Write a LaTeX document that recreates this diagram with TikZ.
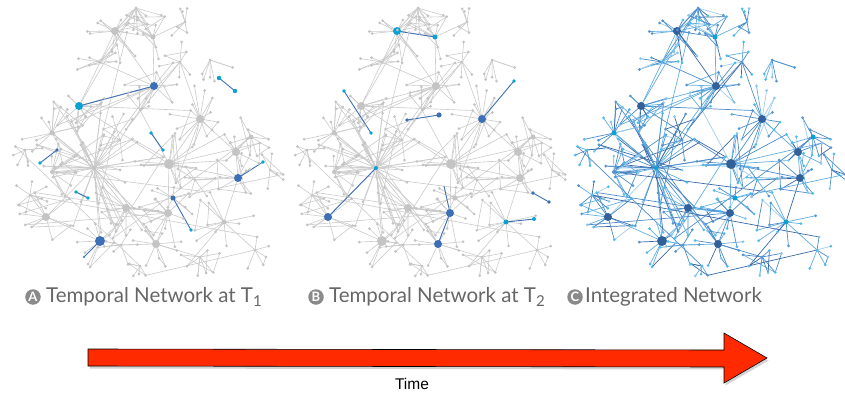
\documentclass[tikz,border=0pt]{standalone}
\usepackage{fontspec}
\setmainfont{Lato}
\newfontfamily\timefont{Liberation Sans}
\usetikzlibrary{shadows}
\definecolor{gE}{HTML}{CACACA}
\definecolor{gN}{HTML}{C4C4C4}
\definecolor{bD}{HTML}{3C6FB5}
\definecolor{bC}{HTML}{0AA2D2}
\definecolor{cdark}{HTML}{34609A}
\definecolor{cE1}{HTML}{3A68A6}
\definecolor{cE2}{HTML}{4C8CCB}
\definecolor{cE3}{HTML}{62AEE3}
\definecolor{cE4}{HTML}{A0CDEA}
\definecolor{cL1}{HTML}{4DBCEB}
\definecolor{cL2}{HTML}{5595D0}
\definecolor{cL3}{HTML}{8BC6EC}
\definecolor{lbl}{HTML}{666666}
\definecolor{circfill}{HTML}{8A8A8A}
\definecolor{arr}{HTML}{FF2A00}
\pgfmathdeclarerandomlist{cedge}{{cE1}{cE2}{cE2}{cE2}{cE3}{cE3}{cE3}{cE4}}
\pgfmathdeclarerandomlist{cleaf}{{cL1}{cL1}{cL2}{cL3}}
\def\offB{282}\def\offC{562}
\newif\ifedgepass
\tikzset{
  ge/.style={draw=gE, line width=0.6pt},
  ce/.style={line width=0.7pt},
  hledge/.style={line width=0.9pt},
  circ/.style={circle, fill=circfill, text=white, inner sep=0pt, minimum size=15.5pt, font=\bfseries\fontsize{13}{13}\selectfont},
  lab/.style={text=lbl, inner sep=0pt, font=\fontsize{20.5}{24}\selectfont},
}
\newcommand\edgeAll[4]{%
  \pgfmathrandomitem{\ec}{cedge}%
  \ifedgepass
  \draw[ge] (#1,#2)--(#3,#4);
  \draw[ge] ({#1+\offB},#2)--({#3+\offB},#4);
  \draw[ce,draw=\ec] ({#1+\offC},#2)--({#3+\offC},#4);
  \fi}
\newcommand\leafAll[2]{%
  \pgfmathrandomitem{\lc}{cleaf}%
  \ifedgepass\else
  \fill[gN] (#1,#2) circle (1.5pt);
  \fill[gN] ({#1+\offB},#2) circle (1.5pt);
  \fill[\lc] ({#1+\offC},#2) circle (1.5pt);
  \fi}
\newcommand\hubAll[6]{%
  \ifedgepass\else
  \fill[#4] (#1,#2) circle (#3pt);
  \fill[#5] ({#1+\offB},#2) circle (#3pt);
  \fill[#6] ({#1+\offC},#2) circle (#3pt);
  \fi}
\newcommand\hlLine[5]{% offset x1 y1 x2 y2
  \draw[hledge, draw=bD] ({#2+#1},#3)--({#4+#1},#5);}
\newcommand\hlDots[8]{% offset x1 y1 x2 y2 r colours
  \fill[#7] ({#2+#1},#3) circle (#6pt);
  \fill[#8] ({#4+#1},#5) circle (#6pt);}
\newcommand\network{%
\pgfmathsetseed{11}%
\foreach \ax/\ay/\bx/\by in {94/168/169/164, 79/106/169/164, 169/164/238/178,
  115/31/154/86, 79/106/115/31, 79/106/154/86, 94/168/46/217, 94/168/100/241,
  94/168/126/208, 126/208/168/213, 168/213/156/244, 169/164/200/119,
  169/164/168/213, 238/178/224/222, 236/152/238/178, 52/133/94/168,
  52/172/94/168, 153/37/154/86, 136/8/79/106, 136/8/115/31, 200/119/236/152,
  94/168/154/86, 115/31/153/37, 46/217/100/241, 156/244/200/257, 121/245/156/244,
  136/8/153/37, 136/8/100/62, 185/22/153/37, 100/62/154/86, 180/62/200/119,
  140/110/169/164, 120/140/94/168, 195/180/238/178, 30/195/46/217, 255/250/224/222}{
  \edgeAll{\ax}{\ay}{\bx}{\by}
}
\xdef\qx{94}\xdef\qy{168}
\foreach \hx/\hy/\n/\rad/\hs/\ca/\cb/\cc in {
  94/168/30/72/2/gN/bC/bC,
  115/31/10/34/4/gN/bC/cdark,
  136/8/8/34/1.5/gN/gN/cL2,
  153/37/9/30/2.5/gN/bC/bC,
  154/86/9/34/4/bD/gN/cdark,
  79/106/9/34/4/bC/gN/cdark,
  200/119/13/34/4/gN/bD/cdark,
  169/164/9/36/5/gN/gN/cdark,
  236/152/8/26/4/gN/gN/cdark,
  238/178/8/30/4/bD/gN/cdark,
  251/137/7/22/2.5/gN/gN/bC,
  126/208/9/36/4/gN/gN/cdark,
  168/213/11/38/4/gN/bD/cdark,
  46/217/8/30/4/gN/bD/cdark,
  100/241/9/30/5/bD/gN/cdark,
  156/244/9/30/4/gN/bD/cdark,
  52/133/11/32/2.5/gN/gN/bC,
  52/172/11/30/2/gN/gN/cL2,
  224/222/10/34/2.5/gN/bC/bC,
  200/257/7/22/1.5/gN/gN/cL2,
  121/245/7/26/1.5/gN/gN/cL2,
  173/198/6/26/2.5/bD/gN/bC,
  270/170/6/20/1.5/gN/gN/cL2,
  210/60/5/24/1.5/gN/gN/cL2,
  185/22/6/20/1.5/gN/gN/cL1,
  100/62/8/26/1.5/gN/gN/cL1,
  180/62/6/22/1.5/gN/gN/cL2,
  140/110/6/24/1.5/gN/gN/cL1,
  120/140/7/26/1.5/gN/gN/cL2,
  195/180/6/22/1.5/gN/gN/cL1,
  30/195/8/22/1.5/gN/gN/cL1,
  255/250/5/20/1.5/gN/gN/cL1,
  140/266/5/14/1.5/gN/gN/cL1,
  25/150/6/18/1.5/gN/gN/cL1}{
  \xdef\px{\hx}\xdef\py{\hy}
  \foreach \i in {1,...,\n}{
    \pgfmathsetmacro\ang{rnd*360}
    \pgfmathsetmacro\rr{\rad*sqrt(0.12+0.88*rnd)}
    \pgfmathsetmacro\lx{\hx+\rr*cos(\ang)}
    \pgfmathsetmacro\ly{\hy+\rr*sin(\ang)}
    \pgfmathsetmacro\lx{\lx>287 ? 574-\lx : (\lx<7 ? 14-\lx : \lx)}
    \pgfmathsetmacro\ly{\ly>277 ? 554-\ly : (\ly<8 ? 16-\ly : \ly)}
    \edgeAll{\hx}{\hy}{\lx}{\ly}
    \pgfmathsetmacro\pr{rnd}
    \ifdim\pr pt<0.25pt \edgeAll{\lx}{\ly}{\px}{\py}\fi
    \pgfmathsetmacro\pq{rnd}
    \ifdim\pq pt<0.08pt \edgeAll{\lx}{\ly}{\qx}{\qy}\fi
    \leafAll{\lx}{\ly}
    \xdef\px{\lx}\xdef\py{\ly}
  }
  \hubAll{\hx}{\hy}{\hs}{\ca}{\cb}{\cc}
  \xdef\qx{\hx}\xdef\qy{\hy}
}}
\begin{document}
\begin{tikzpicture}[x=1pt,y=-1pt]
\useasboundingbox (0,0) rectangle (845,398);
% pass 1: edges
\global\edgepasstrue
\network
% highlighted edges of A and B
\hlLine{0}{79}{106}{154}{86}
\hlLine{0}{219}{78}{235}{91}
\hlLine{0}{151}{133}{163}{150}
\hlLine{0}{57}{150}{40}{163}
\hlLine{0}{76}{192}{88}{198}
\hlLine{0}{173}{198}{191}{230}
\hlLine{0}{263}{162}{238}{178}
\hlLine{0}{100}{241}{84}{257}
\hlLine{282}{115}{31}{153}{37}
\hlLine{282}{62}{91}{89}{133}
\hlLine{282}{125}{120}{157}{115}
\hlLine{282}{200}{119}{232}{81}
\hlLine{282}{94}{168}{46}{217}
\hlLine{282}{168}{213}{162}{186}
\hlLine{282}{168}{213}{156}{244}
\hlLine{282}{224}{222}{252}{219}
\hlLine{282}{251}{193}{267}{202}
% pass 2: nodes
\global\edgepassfalse
\network
\hlDots{0}{219}{78}{235}{91}{2.2}{bC}{bC}
\hlDots{0}{151}{133}{163}{150}{1.8}{bC}{bC}
\hlDots{0}{57}{150}{40}{163}{1.9}{bD}{bC}
\hlDots{0}{76}{192}{88}{198}{1.9}{bC}{bC}
\fill[bC] (191,230) circle (1.9pt);
\fill[bC] (263,162) circle (1.9pt);
\fill[bD] (84,257) circle (1.2pt);
\hlDots{282}{62}{91}{89}{133}{1.8}{bC}{bC}
\hlDots{282}{125}{120}{157}{115}{1.8}{bD}{bD}
\fill[bD] (439,115) circle (2.6pt);
\fill[bC] (514,81) circle (1.8pt);
\fill[bC] (534,219) circle (2pt);
\hlDots{282}{251}{193}{267}{202}{1.9}{bD}{bD}
% labels
\node[circ] (cA) at (33,297) {A};
\node[lab, anchor=west] (lA) at ([xshift=5pt]cA.east) {Temporal Network at T\raisebox{-0.45ex}{\fontsize{15}{15}\selectfont 1}};
\node[circ] (cB) at (316,297) {B};
\node[lab, anchor=west] (lB) at ([xshift=5pt]cB.east) {Temporal Network at T\raisebox{-0.45ex}{\fontsize{15}{15}\selectfont 2}};
\node[circ] (cC) at (575,297) {C};
\node[lab, anchor=west] (lC) at ([xshift=2pt]cC.east) {Integrated Network};
% time arrow
\path[draw=black, line width=0.6pt, fill=arr,
  drop shadow={shadow xshift=1.5pt, shadow yshift=-2.5pt, opacity=0.35}]
  (88,349) -- (724,350) -- (724,333) -- (767,358) -- (724,383) -- (724,367) -- (88,366) -- cycle;
\node[font=\timefont\fontsize{15.5}{18}\selectfont] (time) at (412,384) {Time};
\end{tikzpicture}
\end{document}
